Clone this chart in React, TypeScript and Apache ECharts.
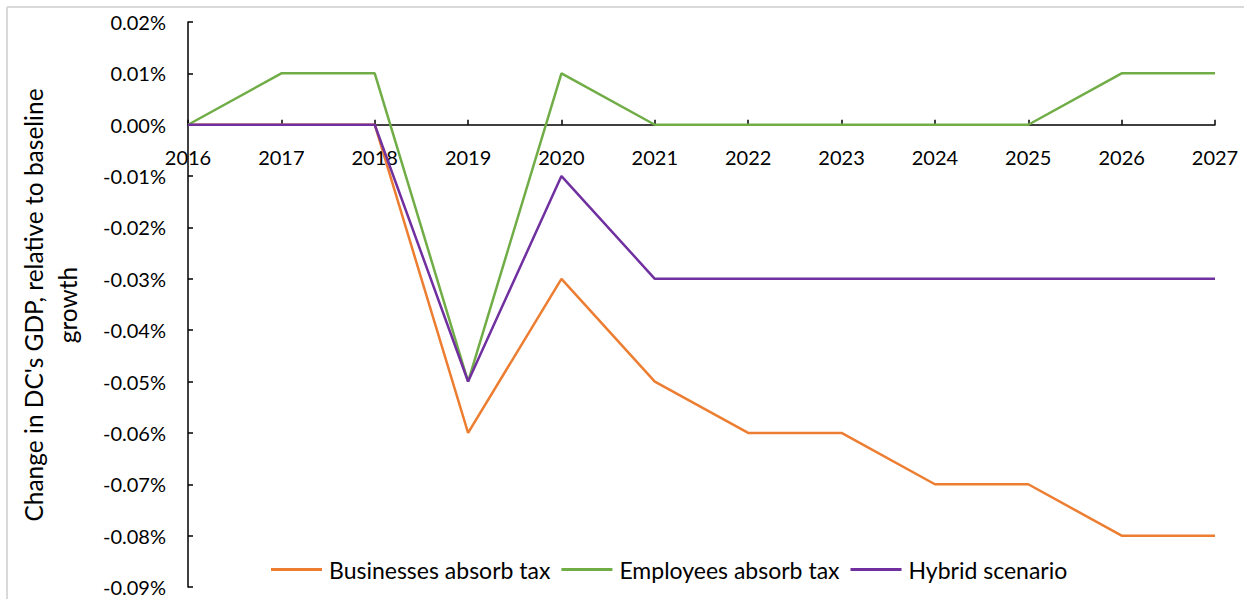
import React, { useEffect, useRef } from "react";
import * as echarts from "echarts";

const years = ["2016", "2017", "2018", "2019", "2020", "2021", "2022", "2023", "2024", "2025", "2026", "2027"];
const businesses = [0, 0, 0, -0.06, -0.03, -0.05, -0.06, -0.06, -0.07, -0.07, -0.08, -0.08];
const employees = [0, 0.01, 0.01, -0.05, 0.01, 0, 0, 0, 0, 0, 0.01, 0.01];
const hybrid = [0, 0, 0, -0.05, -0.01, -0.03, -0.03, -0.03, -0.03, -0.03, -0.03, -0.03];
const seriesNames = ["Businesses absorb tax", "Employees absorb tax", "Hybrid scenario"];
const colors = ["#ED7D31", "#70AD47", "#7030A0"];
const yMin = -0.09;
const yMax = 0.02;
const yStep = 0.01;
const yTitle = "Change in DC's GDP, relative to baseline\ngrowth";

const FONT = "Lato";

export default function App() {
  const ref = useRef<HTMLDivElement>(null);
  useEffect(() => {
    if (!ref.current) return;
    const chart = echarts.init(ref.current, null, { renderer: "svg" });
    const data = [businesses, employees, hybrid];
    chart.setOption({
      animation: false,
      backgroundColor: "#ffffff",
      textStyle: { fontFamily: FONT, color: "#000" },
      grid: { left: 188, right: 29, top: 22, bottom: 12, containLabel: false, outerBoundsMode: "none" },
      legend: {
        left: 266,
        top: 553,
        itemWidth: 51,
        itemHeight: 3,
        itemGap: 11,
        icon: "rect",
        textStyle: { fontFamily: FONT, fontSize: 23, color: "#000", padding: [0, 0, 0, 2] },
        data: seriesNames,
      },
      xAxis: {
        type: "category",
        data: years,
        boundaryGap: false,
        offset: 0,
        axisLine: { onZero: false, lineStyle: { color: "#000", width: 1.5 } },
        axisTick: { show: true, inside: true, length: 5, lineStyle: { color: "#000", width: 1.5 } },
        axisLabel: { margin: 22, fontSize: 20, color: "#000", fontFamily: FONT, showMinLabel: true, showMaxLabel: true, interval: 0, hideOverlap: false },
        splitLine: { show: false },
      },
      yAxis: {
        type: "value",
        min: yMin,
        max: yMax,
        interval: yStep,
        axisLine: { show: true, lineStyle: { color: "#000", width: 1.5 } },
        axisTick: { show: true, inside: true, length: 5, lineStyle: { color: "#000", width: 1.5 } },
        axisLabel: {
          margin: 22,
          fontSize: 20,
          color: "#000",
          fontFamily: FONT,
          formatter: (v: number) => v.toFixed(2) + "%",
        },
        splitLine: { show: false },
      },
      graphic: [
        { type: "line", shape: { x1: 7, y1: 7, x2: 1244, y2: 7 }, style: { stroke: "#d9d9d9", lineWidth: 2 } },
        { type: "line", shape: { x1: 7, y1: 7, x2: 7, y2: 599 }, style: { stroke: "#d9d9d9", lineWidth: 2 } },
        {
          type: "text",
          x: 50,
          y: 305,
          rotation: Math.PI / 2,
          style: {
            text: yTitle,
            font: `24.5px ${FONT}`,
            fill: "#000",
            align: "center",
            verticalAlign: "middle",
            lineHeight: 34,
          },
        },
      ],
      series: seriesNames.map((name, i) => ({
        name,
        type: "line",
        data: data[i],
        symbol: "none",
        lineStyle: { color: colors[i], width: 2.5 },
        itemStyle: { color: colors[i] },
      })),
    });
    const zeroY = chart.convertToPixel({ yAxisIndex: 0 }, 0) as number;
    const bottomY = chart.convertToPixel({ yAxisIndex: 0 }, yMin) as number;
    if (isFinite(zeroY) && isFinite(bottomY)) {
      chart.setOption({ xAxis: { offset: zeroY - bottomY } });
    }
    return () => chart.dispose();
  }, []);
  return <div ref={ref} style={{ position: "fixed", left: 0, top: 0, width: 1244, height: 599 }} />;
}
